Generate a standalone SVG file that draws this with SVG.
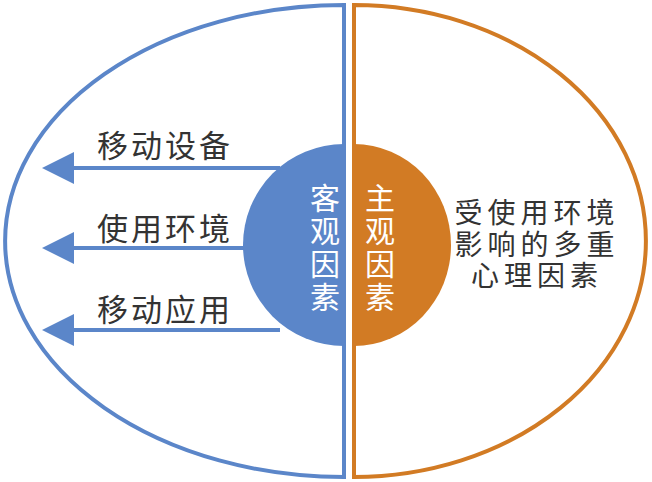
<svg xmlns="http://www.w3.org/2000/svg" width="652" height="482" viewBox="0 0 652 482">
<style>
.bl{fill:none;stroke:#5b86c9;stroke-width:4}
.or{fill:none;stroke:#d27b24;stroke-width:4}
.lbl{font-family:"Noto Sans CJK SC","Noto Sans",sans-serif;font-size:31px;fill:#333;letter-spacing:3px}
.rt{font-family:"Liberation Sans","Noto Sans CJK SC",sans-serif;font-size:28px;fill:#333;letter-spacing:5px}
.ctr{font-family:"Noto Sans CJK SC","Noto Sans",sans-serif;font-size:30px;fill:#fff;writing-mode:vertical-rl;letter-spacing:3px}
.arr{stroke:#5b86c9;stroke-width:4}
.head{fill:#5b86c9}
</style>
<rect width="652" height="482" fill="#fff"/>
<g id="left-half">
<path class="bl" d="M344 5 A339 236 0 0 0 344 477 Z"/>
</g>
<g id="right-half">
<path class="or" d="M354 5 A292 236 0 0 1 354 477 Z"/>
</g>
<g id="connectors">
<line class="arr" x1="70" y1="168" x2="280" y2="168"/>
<polygon class="head" points="42,168 74,152 74,184"/>
<line class="arr" x1="70" y1="248" x2="280" y2="248"/>
<polygon class="head" points="42,248 74,232 74,264"/>
<line class="arr" x1="70" y1="330" x2="280" y2="330"/>
<polygon class="head" points="42,330 74,314 74,346"/>
</g>
<g id="objective">
<path d="M344 144 A101 101 0 0 0 344 346 Z" fill="#5b86c9"/>
<text class="ctr" x="325" y="183">客观因素</text>
</g>
<g id="subjective">
<path d="M354 144 A97 101 0 0 1 354 346 Z" fill="#d27b24"/>
<text class="ctr" x="380" y="183">主观因素</text>
</g>
<g id="label-device"><text class="lbl" x="97" y="157">移动设备</text></g>
<g id="label-env"><text class="lbl" x="97" y="240">使用环境</text></g>
<g id="label-app"><text class="lbl" x="97" y="321">移动应用</text></g>
<g id="label-psych">
<text class="rt" text-anchor="middle"><tspan x="537" y="223">受使用环境</tspan><tspan x="537" y="255">影响的多重</tspan><tspan x="537" y="286">心理因素</tspan></text>
</g>
</svg>
